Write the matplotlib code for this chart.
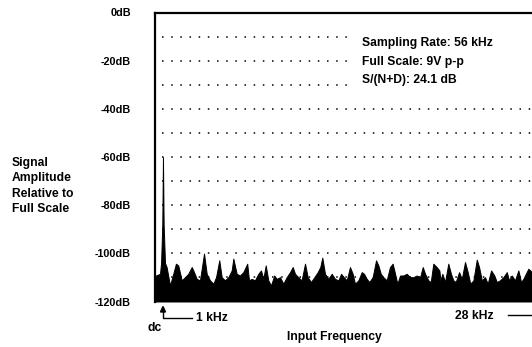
import matplotlib
matplotlib.use("Agg")
import matplotlib.pyplot as plt
from matplotlib.lines import Line2D

# ---- data ----
freq_khz = [0.41, 0.48, 0.78, 0.86, 0.95, 1.00, 1.05, 1.15, 1.27, 1.52, 1.76, 1.96, 2.13,
            2.39, 2.63, 2.87, 3.13, 3.30, 3.50, 3.74, 4.04, 4.24, 4.48, 4.73, 4.93,
            5.17, 5.35, 5.59, 5.84, 6.09, 6.21, 6.46, 6.70, 6.95, 7.24, 7.37, 7.57,
            7.81, 8.06, 8.26, 8.43, 8.61, 8.80, 9.00, 9.24, 9.42, 9.67, 9.91, 10.16,
            10.41, 10.61, 10.78, 11.02, 11.27, 11.52, 11.72, 11.96, 12.21, 12.46,
            12.65, 12.80, 13.00, 13.24, 13.50, 13.74, 13.99, 14.19, 14.39, 14.61,
            14.85, 15.05, 15.22, 15.47, 15.72, 15.89, 16.09, 16.28, 16.53, 16.78,
            16.95, 17.13, 17.32, 17.57, 17.81, 18.01, 18.19, 18.36, 18.56, 18.80,
            19.05, 19.30, 19.54, 19.79, 20.04, 20.24, 20.41, 20.65, 20.83, 21.02,
            21.27, 21.47, 21.55, 21.69, 21.89, 22.13, 22.33, 22.50, 22.68, 22.93,
            23.13, 23.37, 23.57, 23.76, 23.99, 24.24, 24.41, 24.61, 24.85, 25.05,
            25.30, 25.54, 25.72, 25.96, 26.21, 26.46, 26.63, 26.83, 27.07, 27.32,
            27.52, 27.69, 27.87, 28.06, 28.33]
level_db = [-110.0, -109.2, -108.5, -104.0, -88.0, -60.1, -88.0, -104.0, -105.7, -113.3,
            -108.5, -104.3, -105.0, -111.2, -109.9, -108.5, -105.7, -107.8, -110.6,
            -111.2, -100.1, -108.5, -111.2, -112.6, -109.9, -102.9, -109.9, -111.2,
            -109.9, -107.1, -102.2, -108.5, -109.2, -107.8, -104.3, -111.2, -110.6,
            -111.2, -108.5, -107.1, -110.6, -105.0, -111.2, -113.3, -109.2, -110.6,
            -109.9, -112.6, -109.9, -107.8, -105.7, -108.5, -109.9, -111.2, -104.3,
            -109.9, -111.9, -109.9, -107.8, -105.7, -101.8, -108.5, -110.6, -108.5,
            -110.6, -111.2, -108.5, -109.9, -111.2, -105.7, -108.5, -112.6, -111.2,
            -107.8, -108.5, -110.6, -111.9, -109.9, -102.9, -105.0, -108.5, -109.9,
            -111.2, -105.7, -104.3, -108.5, -112.6, -109.2, -109.2, -108.5, -109.9,
            -109.9, -109.2, -109.9, -105.7, -108.5, -111.2, -111.9, -104.3, -105.7,
            -107.1, -111.2, -108.5, -111.9, -104.3, -108.5, -111.2, -111.9, -107.8,
            -110.6, -103.6, -107.8, -112.6, -111.2, -102.6, -105.7, -111.2, -109.9,
            -112.6, -107.1, -109.2, -111.9, -111.2, -109.9, -107.8, -111.2, -109.2,
            -111.2, -107.1, -111.9, -110.6, -108.5, -106.4, -107.8]

ytick_vals = [0, -20, -40, -60, -80, -100, -120]
ytick_labels = ["0dB", "-20dB", "-40dB", "-60dB", "-80dB", "-100dB", "-120dB"]
grid_levels = [-10, -20, -30, -40, -50, -60, -70, -80, -90, -100, -110]
info_lines = ["Sampling Rate: 56 kHz", "Full Scale: 9V p-p", "S/(N+D): 24.1 dB"]
y_title = "Signal\nAmplitude\nRelative to\nFull Scale"
x_title = "Input Frequency"

W, H = 532, 347
FONT = "Liberation Sans"
FS = 8.7
FS_TICK = 7.8

fig = plt.figure(figsize=(W / 100, H / 100), dpi=100)

def fx(px):
    return px / W

def fy(py):
    return 1 - py / H

ax = fig.add_axes([fx(155), fy(301.5), fx(532) - fx(155), fy(12.5) - fy(301.5)])
XMIN, XMAX = 0.41, 28.33
ax.set_xlim(XMIN, XMAX)
ax.set_ylim(-120, 0)

def px_to_f(px):
    return XMIN + (px - 155) / (532 - 155) * (XMAX - XMIN)

# dotted grid
for lv in grid_levels:
    xend = px_to_f(352) if lv >= -30 else px_to_f(531)
    ax.plot([px_to_f(162), xend], [lv, lv], color="black", lw=1.1,
            linestyle=(0, (1, 5)), zorder=1, solid_capstyle="butt")

# spectrum
ax.fill_between(freq_khz, level_db, -120, color="black", lw=0.7,
                edgecolor="black", zorder=2)

for s in ["right", "bottom"]:
    ax.spines[s].set_visible(False)
ax.spines["left"].set_linewidth(1.6)
ax.spines["top"].set_linewidth(1.6)
ax.set_xticks([])
ax.set_yticks(ytick_vals)
ax.set_yticklabels(ytick_labels, fontfamily=FONT, fontweight="bold", fontsize=FS_TICK)
ax.tick_params(axis="y", length=0, pad=(155 - 131) * 72 / 100)

# info text
for i, t in enumerate(info_lines):
    fig.text(fx(362), fy(43 + i * 18.7), t, fontfamily=FONT, fontweight="bold",
             fontsize=FS, va="center", ha="left")

# y title
fig.text(fx(12), fy(186), y_title, fontfamily=FONT, fontweight="bold",
         fontsize=FS, va="center", ha="left", linespacing=1.35)

# x title
fig.text(fx(334), fy(337), x_title, fontfamily=FONT, fontweight="bold",
         fontsize=FS, va="center", ha="center")

# dc arrow and 1 kHz bracket
fig.add_artist(Line2D([fx(192), fx(163), fx(163)], [fy(318), fy(318), fy(311)],
                      color="black", lw=1.0))
fig.add_artist(plt.Polygon([[fx(160.5), fy(312)], [fx(165.5), fy(312)], [fx(163), fy(306.5)]],
                           closed=True, color="black", transform=fig.transFigure))
fig.text(fx(196), fy(318), "1 kHz", fontfamily=FONT, fontweight="bold",
         fontsize=FS, va="center", ha="left")
fig.text(fx(155), fy(328), "dc", fontfamily=FONT, fontweight="bold",
         fontsize=FS, va="center", ha="center")

# 28 kHz
fig.text(fx(455), fy(316), "28 kHz", fontfamily=FONT, fontweight="bold",
         fontsize=FS, va="center", ha="left")
fig.add_artist(Line2D([fx(508), fx(532)], [fy(315), fy(315)], color="black", lw=1.0))

fig.savefig("out.png", dpi=100)
